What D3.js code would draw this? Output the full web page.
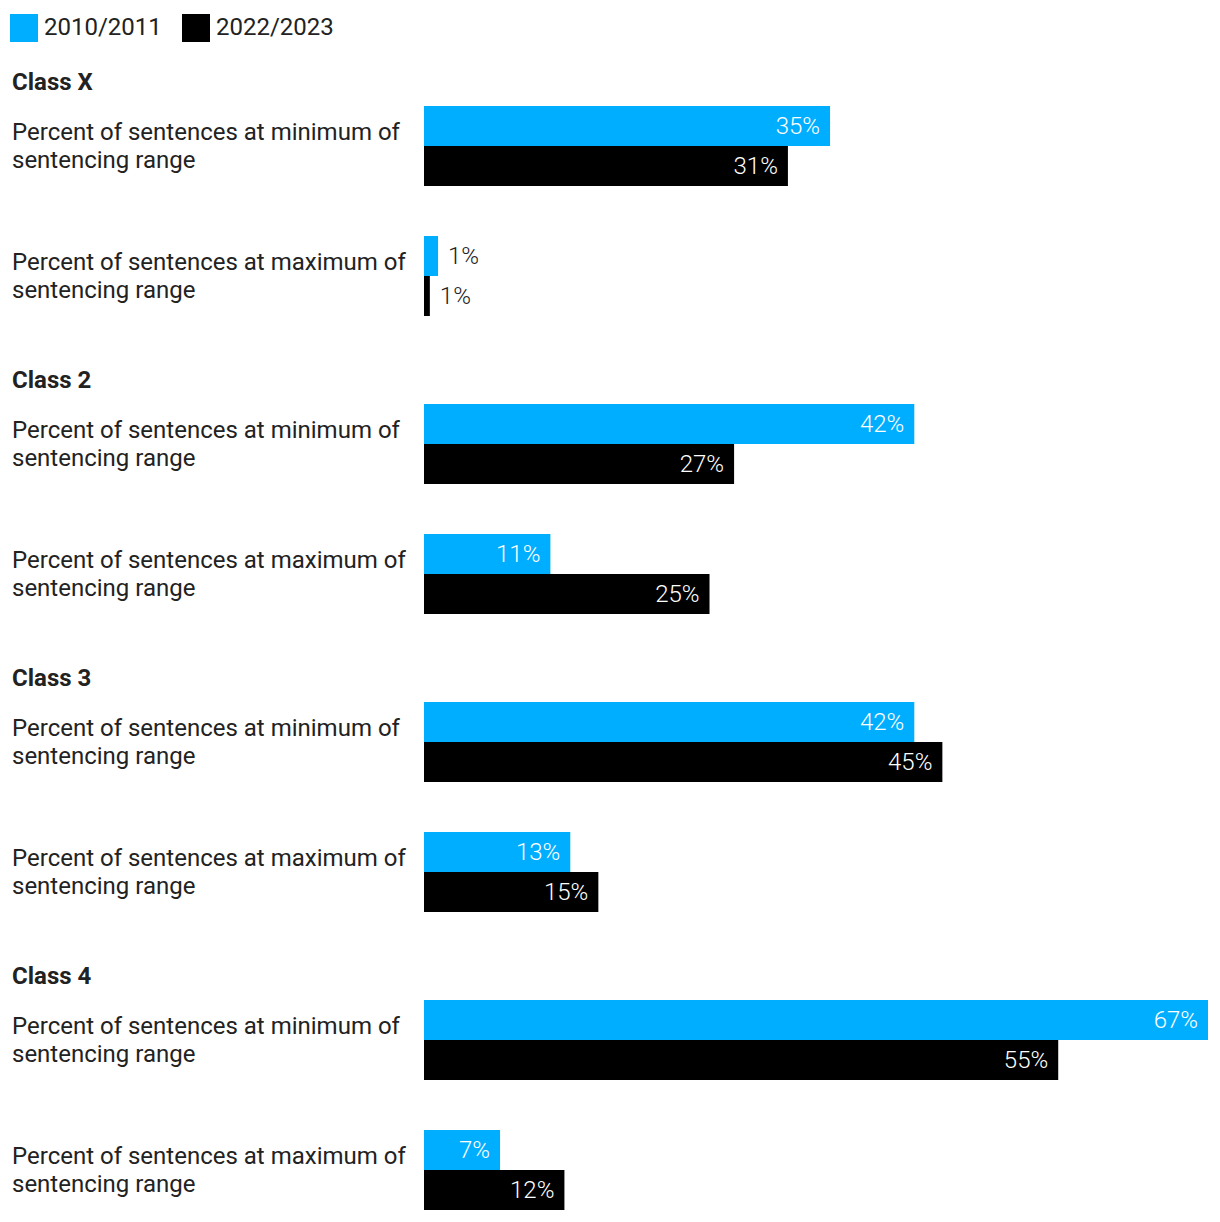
<!DOCTYPE html>
<html><head><meta charset="utf-8">
<script src="https://cdn.jsdelivr.net/npm/d3@7"></script>
<style>body{margin:0;background:#fff;font-family:Roboto,sans-serif;}</style>
</head><body><div id="chart"></div>
<script>
const seriesNames = ["2010/2011", "2022/2023"];
const seriesColors = ["#00AEFF", "#000000"];
const classes = ["Class X", "Class 2", "Class 3", "Class 4"];
const measures = ["Percent of sentences at minimum of|sentencing range", "Percent of sentences at maximum of|sentencing range"];
// bar lengths (percent), per class: [min, max]
const values2010 = [34.7, 1.2, 41.9, 10.8, 41.9, 12.5, 67.0, 6.5];
const values2022 = [31.1, 0.5, 26.5, 24.4, 44.3, 14.9, 54.2, 12.0];
const labels2010 = ["35%", "1%", "42%", "11%", "42%", "13%", "67%", "7%"];
const labels2022 = ["31%", "1%", "27%", "25%", "45%", "15%", "55%", "12%"];

const W = 1220, H = 1222;
const FS = 24;
const svg = d3.select("#chart").append("svg").attr("width", W).attr("height", H);

const x = d3.scaleLinear().domain([0, 67]).range([424, 1208]);
const barH = 40;
const blockY = d3.scaleBand().domain(classes).range([58, 58 + 298 * 4]).paddingInner(0).paddingOuter(0);

// legend
const leg = svg.append("g");
const legX = [10, 182];
seriesNames.forEach((s, i) => {
  leg.append("rect").attr("x", legX[i]).attr("y", 14).attr("width", 28).attr("height", 28).attr("fill", seriesColors[i]);
  leg.append("text").attr("x", legX[i] + 34).attr("y", 27).attr("dy", "0.35em")
    .attr("font-size", FS).attr("fill", "#222").text(s);
});

classes.forEach((c, ci) => {
  const y0 = blockY(c);
  const g = svg.append("g");
  g.append("text").attr("x", 12).attr("y", y0 + 24).attr("dy", "0.35em")
    .attr("font-size", FS).attr("font-weight", "bold").attr("fill", "#222").text(c);
  measures.forEach((m, mi) => {
    const idx = ci * 2 + mi;
    const by = y0 + 48 + mi * 130;
    const lines = m.split("|");
    lines.forEach((ln, li) => {
      g.append("text").attr("x", 12).attr("y", by + 40 - 14 + li * 28).attr("dy", "0.35em")
        .attr("font-size", FS).attr("fill", "#222").text(ln);
    });
    const vals = [values2010[idx], values2022[idx]];
    const labs = [labels2010[idx], labels2022[idx]];
    vals.forEach((v, si) => {
      const yy = by + si * barH;
      g.append("rect").attr("x", x(0)).attr("y", yy).attr("width", x(v) - x(0)).attr("height", barH)
        .attr("fill", seriesColors[si]);
      const inside = (x(v) - x(0)) > 60;
      g.append("text")
        .attr("x", inside ? x(v) - 10 : x(v) + 10)
        .attr("y", yy + barH / 2).attr("dy", "0.35em")
        .attr("text-anchor", inside ? "end" : "start")
        .attr("font-size", FS).attr("font-weight", 300)
        .attr("fill", inside ? "#fff" : "#222").text(labs[si]);
    });
  });
});
</script></body></html>
